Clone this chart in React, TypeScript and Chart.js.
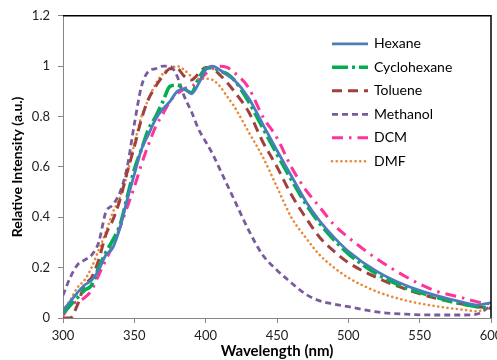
import React, { useEffect, useRef } from "react";
import { Chart, registerables } from "chart.js";

Chart.register(...registerables);

const wavelengths = [300,305,310,315,320,325,330,335,340,345,350,355,360,365,370,375,380,385,390,395,400,405,410,415,420,430,440,450,460,470,480,490,500,520,540,560,580,590,600];

const hexane = [0.03,0.065,0.10,0.13,0.15,0.19,0.25,0.28,0.36,0.47,0.57,0.67,0.73,0.79,0.83,0.86,0.90,0.91,0.89,0.93,0.985,1.0,0.985,0.965,0.945,0.875,0.77,0.665,0.565,0.465,0.385,0.32,0.265,0.185,0.13,0.092,0.063,0.052,0.06];
const cyclohexane = [0.02,0.05,0.08,0.11,0.13,0.20,0.26,0.31,0.37,0.48,0.59,0.67,0.75,0.80,0.86,0.92,0.925,0.91,0.895,0.95,0.99,0.995,0.98,0.97,0.945,0.86,0.755,0.65,0.55,0.455,0.375,0.31,0.255,0.175,0.12,0.085,0.055,0.045,0.04];
const toluene = [0,0,0.05,0.13,0.16,0.23,0.33,0.39,0.47,0.58,0.68,0.79,0.87,0.92,0.96,0.99,0.99,0.96,0.945,0.97,0.995,0.99,0.965,0.935,0.90,0.82,0.70,0.60,0.49,0.40,0.32,0.265,0.22,0.16,0.115,0.08,0.055,0.045,0.04];
const methanol = [0.09,0.16,0.21,0.23,0.25,0.30,0.42,0.45,0.50,0.60,0.77,0.92,0.98,0.99,1.0,1.0,0.96,0.88,0.82,0.75,0.70,0.65,0.59,0.53,0.47,0.35,0.25,0.19,0.14,0.095,0.068,0.055,0.045,0.024,0.015,0.012,0.012,0.015,0.05];
const dcm = [0.01,0.05,0.065,0.08,0.11,0.17,0.23,0.29,0.36,0.44,0.52,0.61,0.69,0.76,0.81,0.86,0.89,0.91,0.92,0.94,0.97,0.99,1.0,0.995,0.975,0.915,0.80,0.715,0.60,0.51,0.44,0.37,0.32,0.235,0.165,0.11,0.08,0.065,0.055];
const dmf = [0.03,0.07,0.12,0.15,0.20,0.27,0.34,0.42,0.48,0.57,0.69,0.80,0.87,0.93,0.97,0.99,1.0,0.985,0.96,0.95,0.95,0.945,0.92,0.88,0.84,0.74,0.64,0.52,0.40,0.32,0.25,0.20,0.16,0.105,0.07,0.048,0.033,0.027,0.04];

const seriesNames = ["Hexane", "Cyclohexane", "Toluene", "Methanol", "DCM", "DMF"];
const seriesValues = [hexane, cyclohexane, toluene, methanol, dcm, dmf];

const xTicks = [300, 350, 400, 450, 500, 550, 600];
const yTicks = [0, 0.2, 0.4, 0.6, 0.8, 1, 1.2];

const styles = [
  { color: "#4A7EBB", width: 2.8, dash: [] as number[], cap: "butt" },
  { color: "#00B050", width: 3.6, dash: [16, 4, 3, 4], cap: "butt" },
  { color: "#A0413D", width: 3, dash: [10, 6], cap: "butt" },
  { color: "#7A5C9E", width: 2.8, dash: [6, 4], cap: "butt" },
  { color: "#FF3399", width: 3, dash: [11, 6, 2.5, 6], cap: "butt" },
  { color: "#E8893B", width: 2.6, dash: [0.1, 4.6], cap: "round" },
];

const FONT = "Lato, 'Open Sans', sans-serif";

const frameAndLegend = {
  id: "frameAndLegend",
  afterDraw(chart: any) {
    const { ctx, chartArea } = chart;
    const { left, right, top, bottom } = chartArea;
    ctx.save();
    ctx.strokeStyle = "#000";
    ctx.lineWidth = 1.5;
    ctx.beginPath();
    ctx.moveTo(left, top);
    ctx.lineTo(right, top);
    ctx.lineTo(right, bottom);
    ctx.stroke();

    const x0 = left + 269;
    const x1 = left + 305;
    const startY = top + 28;
    const step = 23.5;
    ctx.font = `14px ${FONT}`;
    ctx.textBaseline = "middle";
    ctx.textAlign = "left";
    seriesNames.forEach((name, i) => {
      const s = styles[i];
      const y = startY + i * step;
      ctx.strokeStyle = s.color;
      ctx.lineWidth = s.width;
      ctx.lineCap = s.cap as CanvasLineCap;
      ctx.setLineDash(s.dash);
      ctx.beginPath();
      ctx.moveTo(x0, y);
      ctx.lineTo(x1, y);
      ctx.stroke();
      ctx.setLineDash([]);
      ctx.fillStyle = "#000";
      ctx.fillText(name, x1 + 6, y);
    });
    ctx.restore();
  },
};

export default function App() {
  const ref = useRef<HTMLCanvasElement>(null);
  useEffect(() => {
    const canvas = ref.current;
    if (!canvas) return;
    const chart = new Chart(canvas, {
      type: "line",
      data: {
        datasets: seriesNames.map((name, i) => ({
          label: name,
          data: wavelengths.map((w, j) => ({ x: w, y: seriesValues[i][j] })),
          borderColor: styles[i].color,
          backgroundColor: styles[i].color,
          borderWidth: styles[i].width,
          borderDash: styles[i].dash,
          borderCapStyle: styles[i].cap as any,
          pointRadius: 0,
          fill: false,
          cubicInterpolationMode: "monotone" as const,
        })),
      },
      options: {
        responsive: false,
        animation: false,
        devicePixelRatio: 1,
        layout: { padding: { left: 0, top: 14, right: 29, bottom: 0 } },
        plugins: { legend: { display: false }, tooltip: { enabled: false } },
        scales: {
          x: {
            type: "linear",
            min: 300,
            max: 600,
            afterBuildTicks: (s: any) => { s.ticks = xTicks.map((v) => ({ value: v })); },
            afterFit: (s: any) => { s.height = 42; },
            grid: { drawOnChartArea: false, drawTicks: true, tickLength: 5, color: "#868686" },
            border: { color: "#868686", width: 1 },
            ticks: { color: "#222", font: { family: FONT, size: 13 }, padding: 5, maxRotation: 0, callback: (v: any) => String(v) },
            title: { display: true, text: "Wavelength (nm)", color: "#000", font: { family: FONT, size: 15, weight: "bold" }, padding: { top: 2, bottom: 0 } },
          },
          y: {
            type: "linear",
            min: 0,
            max: 1.2,
            afterBuildTicks: (s: any) => { s.ticks = yTicks.map((v) => ({ value: v })); },
            afterFit: (s: any) => { s.width = 63; },
            grid: { drawOnChartArea: false, drawTicks: true, tickLength: 5, color: "#868686" },
            border: { color: "#868686", width: 1 },
            ticks: { color: "#222", font: { family: FONT, size: 13 }, padding: 8, callback: (v: any) => String(Math.round(Number(v) * 10) / 10) },
            title: { display: true, text: "Relative Intensity (a.u.)", color: "#000", font: { family: FONT, size: 14, weight: "bold" }, padding: { top: 9, bottom: 0 } },
          },
        },
      },
      plugins: [frameAndLegend],
    });
    return () => chart.destroy();
  }, []);
  return (
    <div style={{ position: "fixed", left: 0, top: 0, width: 497, height: 360, overflow: "hidden", background: "#fff" }}>
      <canvas ref={ref} width={520} height={360} style={{ display: "block" }} />
    </div>
  );
}
